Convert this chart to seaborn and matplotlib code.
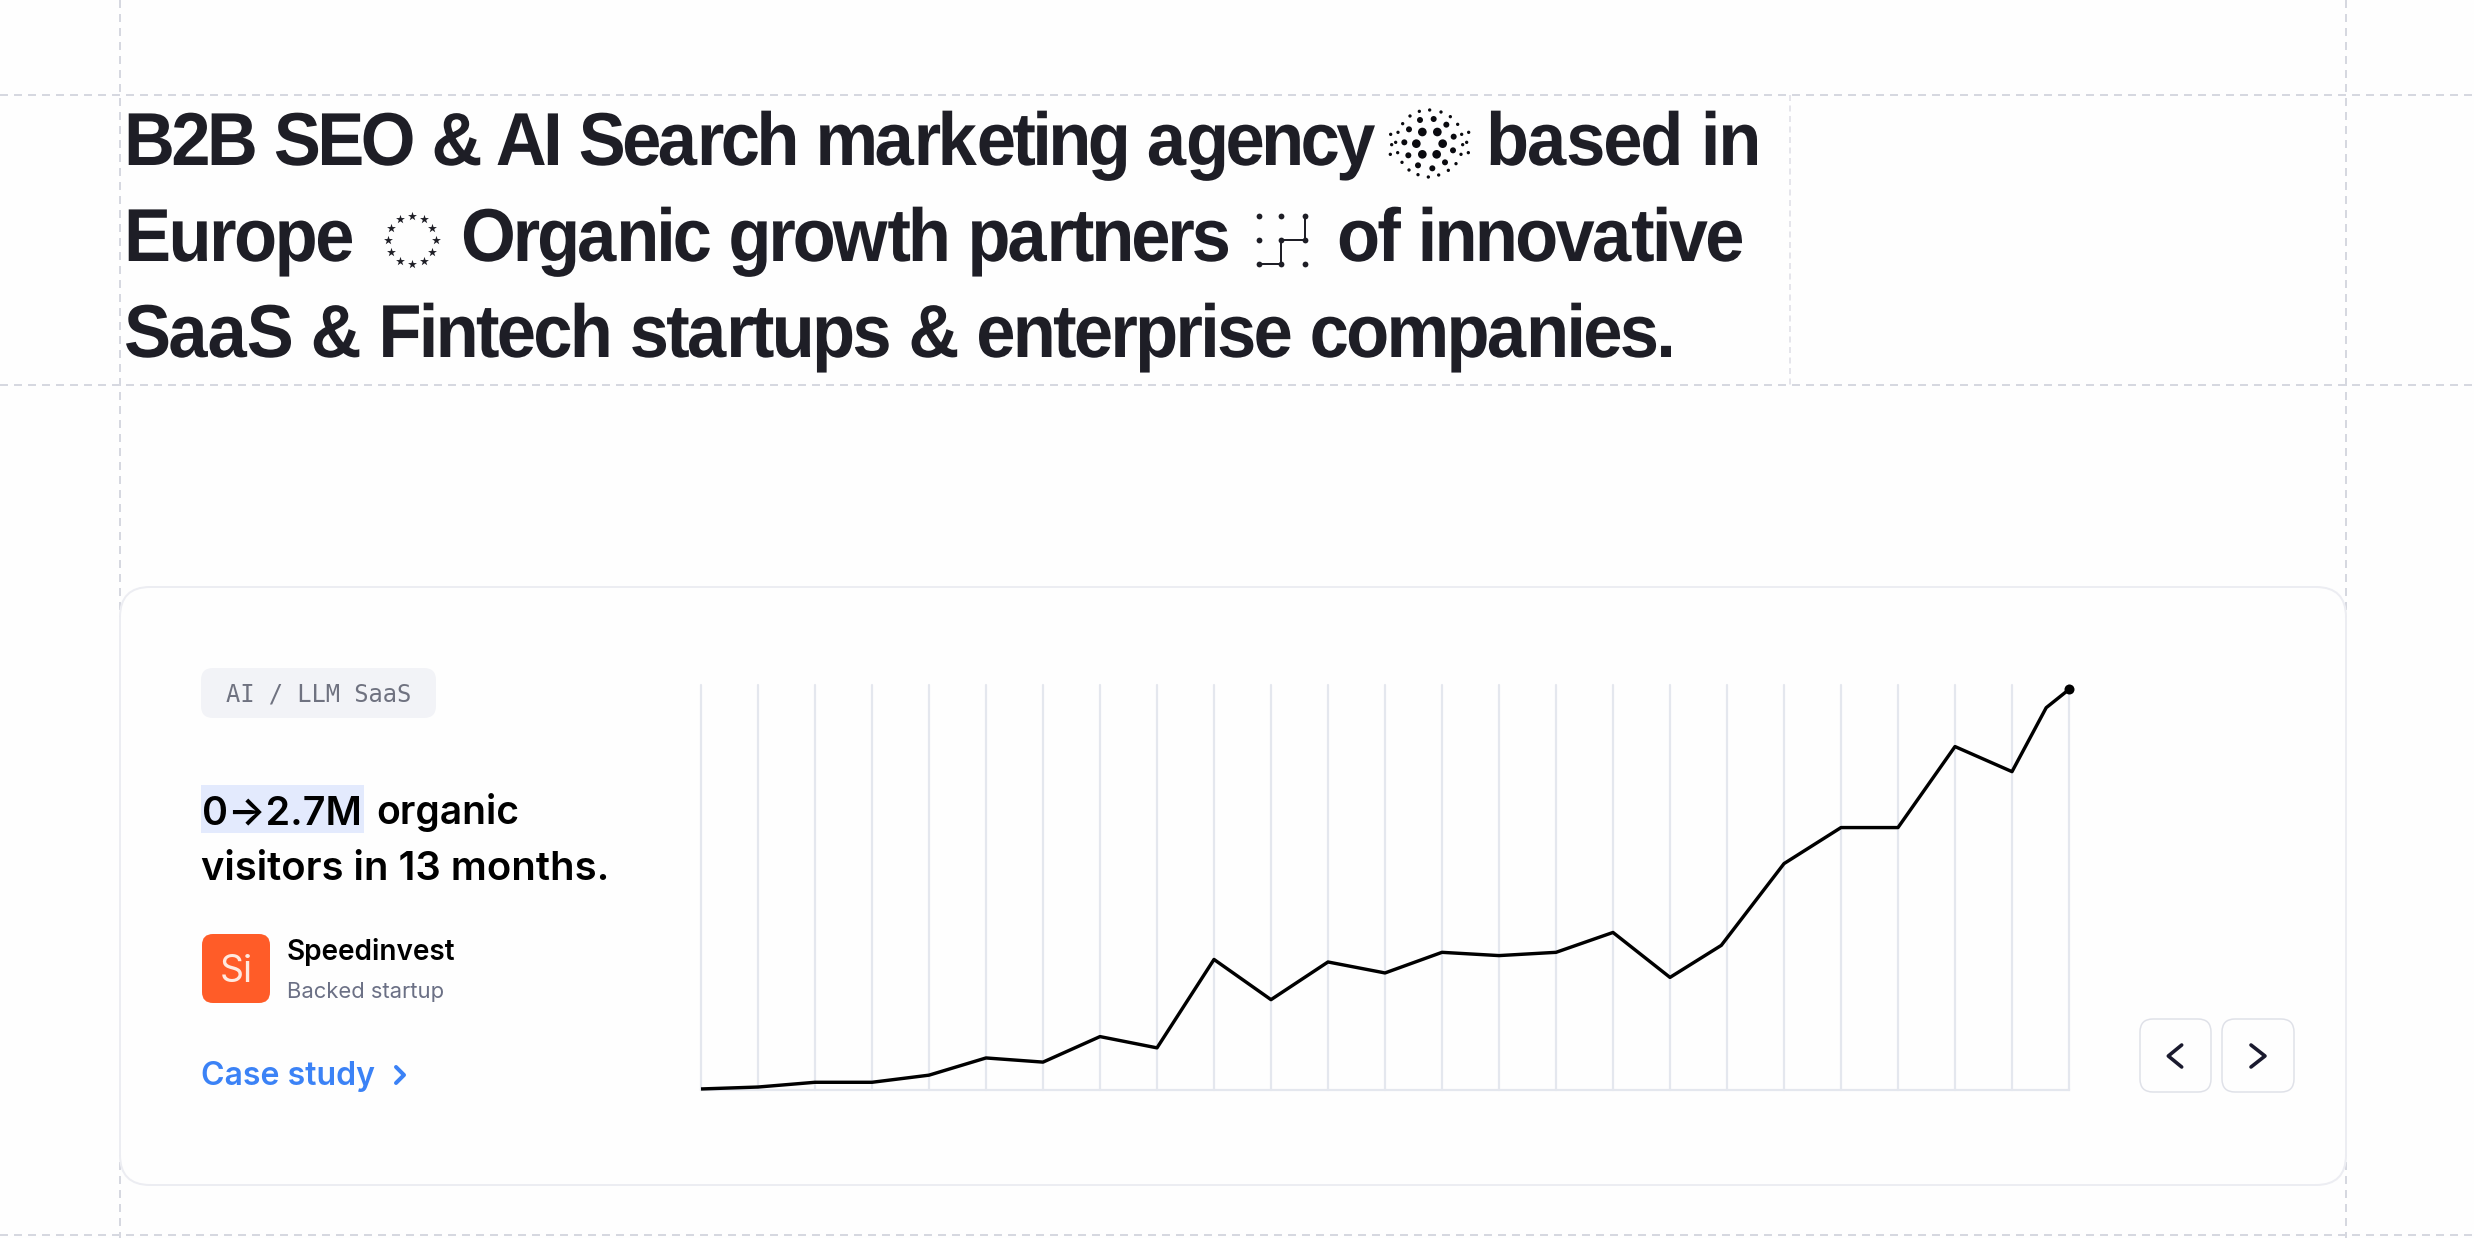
import numpy as np
import pandas as pd
import seaborn as sns
import matplotlib
matplotlib.use("Agg")
import matplotlib.pyplot as plt
import matplotlib.patheffects as pe
from matplotlib.patches import FancyBboxPatch, Rectangle
from matplotlib.path import Path

W, H = 2474, 1238
BG = "#FEFEFE"
INK = "#1E1E26"
GRID = "#E4E7EE"
DASH = "#D6D8E0"

# ---- chart data (millions of organic visitors) ----
months = [0, 1, 2, 3, 4, 5, 6, 7, 8, 9, 10, 11, 12, 13, 14, 15, 16, 17, 17.9, 19, 20, 21, 22, 23, 23.6, 24]
visitors = [0.007, 0.020, 0.052, 0.052, 0.10, 0.216, 0.188, 0.36, 0.284, 0.88, 0.609, 0.863, 0.789,
            0.928, 0.906, 0.928, 1.062, 0.759, 0.975, 1.526, 1.769, 1.769, 2.315, 2.146, 2.577, 2.70]
grid_months = list(range(25))

# ---- text: heading lines, with room left inside them for the inline icons ----
heading = [
    ("B2B SEO & AI Search marketing agency       based in", 165, [(124, 1375), (1486, 1757)]),
    ("Europe       Organic growth partners       of innovative", 261, [(124, 352), (461, 1228), (1337, 1742)]),
    ("SaaS & Fintech startups & enterprise companies.", 357, [(124, 1671)]),
]
tag_label = "AI / LLM SaaS"
claim_hi = "0→2.7M"
claim_rest = "organic"
claim_line2 = "visitors in 13 months."
backer = "Speedinvest"
backer_sub = "Backed startup"
logo_label = "Si"
link_label = "Case study"

# ---- icon dots: x, y, radius (3x crop of 1380,100) ----
sphere_x = [149,118,183,90,211,68,233,32,54,245,266,35,47,248,260,31,53,243,265,66,228,87,205,114,176,145,
            120,161,199,87,221,73,219,85,195,114,157, 127,172,109,188,127,170]
sphere_y = [30,34,36,48,50,71,73,103,97,103,97,134,127,134,127,163,158,163,158,187,191,210,211,224,225,231,
            60,57,74,88,110,127,151,166,187,196,205, 96,96,131,131,163,163]
sphere_r = [5]*26 + [9]*11 + [13]*6

sns.set_theme(style="white")
plt.rcParams["font.family"] = ["Inter", "DejaVu Sans"]
fig = plt.figure(figsize=(W/100, H/100), dpi=100, facecolor=BG)

bg = fig.add_axes([0, 0, 1, 1], zorder=0)
bg.set_xlim(0, W); bg.set_ylim(H, 0); bg.axis("off")

def pt(px):
    return px * 0.72

dash_kw = dict(color=DASH, lw=pt(2), dashes=(4, 3), zorder=1)
for y in (95, 385, 1235):
    bg.plot([0, W], [y, y], **dash_kw)
for x in (120, 2346):
    bg.plot([x, x], [0, H], **dash_kw)
bg.plot([1790, 1790], [95, 385], color="#DDDEE5", lw=pt(1.5), dashes=(4, 3), zorder=1)

def rrect(x0, y0, x1, y1, r, fc, ec="none", lw=0, z=2):
    p = FancyBboxPatch((x0 + r, y0 + r), x1 - x0 - 2*r, y1 - y0 - 2*r,
                       boxstyle=f"round,pad={r},rounding_size={r}",
                       fc=fc, ec=ec, lw=lw, zorder=z)
    bg.add_patch(p)

rrect(120, 587, 2346, 1185, 30, BG, "#ECEDF2", pt(2), 2)
rrect(201, 668, 436, 718, 12, "#F2F3F7", z=3)
bg.add_patch(Rectangle((201, 785), 163, 48, fc="#E3EAFD", ec="none", zorder=3))
rrect(202, 934, 270, 1003, 11, "#FF5C28", z=3)
for x0, x1 in ((2140, 2211), (2222, 2294)):
    rrect(x0, 1019, x1, 1092, 13, BG, "#DFE1E8", pt(1.5), 3)

renderer = fig.canvas.get_renderer()

class Tracked(pe.AbstractPathEffect):
    """Condenses glyphs and tightens tracking so each run of a line spans the given pixel range.
    Runs are separated by the wide blank kept for an inline icon."""
    def __init__(self, runs, squeeze, em_px):
        super().__init__()
        self.runs, self.squeeze, self.em_px = runs, squeeze, em_px

    def draw_path(self, renderer, gc, tpath, affine, rgbFace=None):
        verts, codes = tpath.vertices.copy(), tpath.codes
        starts = list(np.where(codes == Path.MOVETO)[0]) + [len(codes)]
        spans = sorted((verts[a:b, 0].min(), verts[a:b, 0].max(), a, b)
                       for a, b in zip(starts[:-1], starts[1:]) if b - a > 1)
        clusters = []
        for lo, hi, a, b in spans:
            if clusters and lo < clusters[-1][1]:
                clusters[-1][1] = max(clusters[-1][1], hi)
                clusters[-1][2].append((a, b))
            else:
                clusters.append([lo, hi, [(a, b)]])
        scale = abs(affine.get_matrix()[0, 0])
        big_gap = 1.0 * self.em_px / scale
        groups = [[clusters[0]]]
        for c in clusters[1:]:
            if c[0] - groups[-1][-1][1] > big_gap:
                groups.append([c])
            else:
                groups[-1].append(c)
        f = self.squeeze
        x_ref = self.runs[0][0]
        origin = clusters[0][0]
        for group, (x0, x1) in zip(groups, self.runs):
            target = (x1 - x0) / scale
            span = group[-1][1] - group[0][0]
            track = (f * span - target) / max(len(group) - 1, 1)
            pos = origin + (x0 - x_ref) / scale
            for i, (lo, hi, parts) in enumerate(group):
                for a, b in parts:
                    verts[a:b, 0] = pos + f * (verts[a:b, 0] - lo)
                pos += f * (hi - lo)
                if i < len(group) - 1:
                    pos += f * (group[i + 1][0] - hi) - track
        renderer.draw_path(gc, Path(verts, codes), affine, rgbFace)

def fit(text, x0, x1, base, family, color, weight="normal", z=5):
    t = bg.text(x0, base, text, family=family, color=color, fontweight=weight,
                fontsize=20, ha="left", va="baseline", zorder=z)
    w = t.get_window_extent(renderer).width
    t.set_fontsize(20 * (x1 - x0) / w)
    return t

head_fam = ["Liberation Sans", "DejaVu Sans"]
HEAD_SIZE = 54
for txt, base, runs in heading:
    t = bg.text(runs[0][0], base, txt, family=head_fam, color=INK, fontweight="bold",
                fontsize=HEAD_SIZE, ha="left", va="baseline", zorder=5)
    t.set_path_effects([Tracked(runs, 0.94, HEAD_SIZE / 0.72)])

fit(tag_label, 226, 412, 701, ["DejaVu Sans Mono"], "#6F7280")
fit(claim_hi, 202, 362, 824, ["Inter", "DejaVu Sans"], "#000000", "semibold")
fit(claim_rest, 376, 519, 824, ["Inter", "DejaVu Sans"], "#000000", "semibold")
fit(claim_line2, 201, 609, 880, ["Inter", "DejaVu Sans"], "#000000", "semibold")
fit(backer, 287, 456, 960, ["Inter", "DejaVu Sans"], "#000000", "semibold")
fit(backer_sub, 287, 444, 998, ["Inter", "DejaVu Sans"], "#6B7085")
fit(link_label, 201, 375, 1085, ["Inter", "DejaVu Sans"], "#3B82F6", "semibold")
bg.text(236, 968.5, logo_label, family=["Inter", "DejaVu Sans"], color="#FFE9DF", fontsize=27,
        ha="center", va="center_baseline", zorder=5)

bg.plot([396, 404, 396], [1067, 1075, 1083], color="#3B82F6", lw=pt(4), zorder=5, solid_capstyle="round")
for xs in ((2181.7, 2168.3, 2181.7), (2251, 2265, 2251)):
    bg.plot(xs, [1045, 1056, 1067], color="#1A1A2E", lw=pt(3.6), zorder=5)

sx = 1380 + np.array(sphere_x) / 3
sy = 100 + np.array(sphere_y) / 3
sr = np.array(sphere_r) / 3
bg.scatter(sx, sy, s=(2 * pt(sr)) ** 2, c="#0A0A0F", linewidths=0, zorder=5)

ang = np.deg2rad(np.arange(0, 360, 30))
bg.scatter(411.7 + 24 * np.cos(ang), 240 + 24 * np.sin(ang), marker="*", s=45,
           c=INK, linewidths=0, zorder=5)

gx = np.array([1259, 1281, 1305]); gy = np.array([215.7, 239.7, 263.7])
XX, YY = np.meshgrid(gx, gy)
bg.scatter(XX.ravel(), YY.ravel(), s=(2 * pt(2.9)) ** 2, c=INK, linewidths=0, zorder=5)
bg.plot([gx[2], gx[2], gx[1], gx[1], gx[0]], [gy[0], gy[1], gy[1], gy[2], gy[2]],
        color=INK, lw=pt(2), zorder=5)

ax = fig.add_axes([701 / W, 1 - 1090 / H, (2069 - 701) / W, (1090 - 685) / H], zorder=4)
ax.patch.set_alpha(0)
df = pd.DataFrame({"month": months, "visitors": visitors})
sns.lineplot(data=df, x="month", y="visitors", color="#000000", lw=pt(3.4), errorbar=None,
             sort=False, ax=ax, clip_on=False, zorder=3, solid_capstyle="butt")
sns.scatterplot(x=months[-1:], y=visitors[-1:], color="#000000", s=(2 * pt(5)) ** 2, linewidth=0,
                ax=ax, clip_on=False, zorder=4)
ax.set_xlim(0, 24); ax.set_ylim(0, 2.73)
ax.set_xticks(grid_months); ax.set_yticks([])
ax.set_xlabel(""); ax.set_ylabel("")
ax.tick_params(length=0, labelbottom=False, labelleft=False)
ax.grid(axis="x", color=GRID, lw=pt(2.2))
for g in ax.xaxis.get_gridlines():
    g.set_clip_on(False)
ax.set_axisbelow(True)
for s in ("top", "left", "right"):
    ax.spines[s].set_visible(False)
ax.spines["bottom"].set_color(GRID)
ax.spines["bottom"].set_linewidth(pt(2.2))

fig.savefig("out.png", dpi=100, facecolor=BG)
